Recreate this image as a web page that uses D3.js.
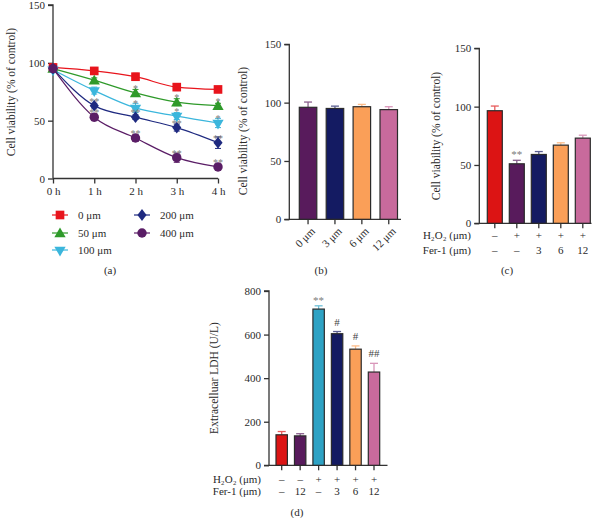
<!DOCTYPE html>
<html><head><meta charset="utf-8">
<script src="https://cdn.jsdelivr.net/npm/d3@7"></script>
<style>
body{margin:0;background:#fff;}
svg text{font-family:"Liberation Serif","DejaVu Serif",serif;}
</style></head><body>
<svg id="c" width="599" height="518"></svg>
<script>
// ---------- DATA ----------
// Panel (a)
const hours = [0,1,2,3,4];
const hourLabels = ["0 h","1 h","2 h","3 h","4 h"];
const seriesNames = ["0 μm","50 μm","100 μm","200 μm","400 μm"];
const seriesColors = ["#e8141c","#2f9a2a","#3bb6dc","#1f2a80","#5a1d66"];
const seriesSymbols = ["square","triUp","triDown","diamond","circle"];
const s0 = [96,93,88,79,77];
const s50 = [95,85,74,66,63];
const s100 = [94,76,61,54,48];
const s200 = [95,63,53,44,31];
const s400 = [95,53,35,18,10];
const e0 = [3,3,3,3,2];
const e50 = [2,2,3,3,2];
const e100 = [2,3,4,3,4];
const e200 = [2,2,2,3,5];
const e400 = [2,3,3,4,2];
const sig0 = ["","","","",""];
const sig50 = ["","","*","*","*"];
const sig100 = ["","","*","*","*"];
const sig200 = ["","**","**","**","**"];
const sig400 = ["","**","**","**","**"];
const ticksA = [0,50,100,150];

// Panel (b)
const catB = ["0 μm","3 μm","6 μm","12 μm"];
const valB = [96,95,96.5,94];
const errB = [4.5,2,2,2.5];
const colB = ["#581b5c","#141b62","#fa9f58","#c86a9c"];

// Panel (c)
const h2o2C = ["–","+","+","+","+"];
const ferC = ["–","–","3","6","12"];
const valC = [96.5,51,59,67,73];
const errC = [4,3,2.5,2,2.5];
const sigC = ["","**","","",""];
const colC = ["#dc1414","#581b5c","#141b62","#fa9f58","#c86a9c"];

// Panel (d)
const h2o2D = ["–","–","+","+","+","+"];
const ferD = ["–","12","–","3","6","12"];
const valD = [140,135,717,604,533,428];
const errD = [15,10,15,10,15,40];
const sigD = ["","","**","#","#","##"];
const colD = ["#dc1414","#581b5c","#2ea2c4","#141b62","#fa9f58","#c86a9c"];
const ticksD = [0,200,400,600,800];

// ---------- DRAWING ----------
const svg = d3.select("#c");
const axisCol = "#333";
const txtCol = "#2a2a2a";
const sigCol = "#7a7a7a";

function symPath(kind){
  if(kind==="square") return d3.symbol(d3.symbolSquare, 75)();
  if(kind==="triUp") return d3.symbol(d3.symbolTriangle, 55)();
  if(kind==="triDown") return d3.symbol(d3.symbolTriangle, 55)();
  if(kind==="diamond") return d3.symbol(d3.symbolDiamond, 50)();
  return d3.symbol(d3.symbolCircle, 70)();
}
function symTransform(kind,x,y){
  if(kind==="triDown") return `translate(${x},${y}) rotate(180)`;
  if(kind==="triUp") return `translate(${x},${y+1})`;
  if(kind==="diamond") return `translate(${x},${y}) scale(1.2,0.9)`;
  return `translate(${x},${y})`;
}

function yAxis(g, y, ticks){
  const ax = d3.axisLeft(y).tickValues(ticks).tickSize(5).tickPadding(3).tickFormat(d3.format("d"));
  g.call(ax);
  g.select(".domain").attr("stroke",axisCol).attr("stroke-width",1.3).attr("d",`M-5,${y(ticks[ticks.length-1])}H0V${y(ticks[0])}`);
  g.selectAll(".tick line").attr("stroke",axisCol).attr("stroke-width",1.3);
  g.selectAll(".tick text").attr("fill",txtCol).style("font-size","11px").style("font-family","Liberation Serif");
}

function yLabel(x, yc, text){
  svg.append("text").attr("transform",`translate(${x},${yc}) rotate(-90)`)
    .attr("text-anchor","middle").attr("fill",txtCol).style("font-size","11.5px").text(text);
}

// ===== Panel (a) =====
{
  const x = d3.scaleLinear().domain([0,4]).range([53,218]);
  const y = d3.scaleLinear().domain([0,150]).range([178.5,5]);
  const g = svg.append("g");
  const gy = g.append("g").attr("transform","translate(53,0)");
  yAxis(gy, y, ticksA);
  const gx = g.append("g").attr("transform",`translate(0,${y(0)})`);
  gx.call(d3.axisBottom(x).tickValues(hours).tickSize(5).tickPadding(4).tickFormat((d,i)=>hourLabels[i]));
  gx.select(".domain").attr("stroke",axisCol).attr("stroke-width",1.3).attr("d",`M${x(0)},0H${x(4)}`);
  gx.selectAll(".tick line").attr("stroke",axisCol).attr("stroke-width",1.3);
  gx.selectAll(".tick text").attr("fill",txtCol).style("font-size","11px").style("font-family","Liberation Serif");
  yLabel(15, 92, "Cell viability (% of control)");

  const vals = [s0,s50,s100,s200,s400];
  const errs = [e0,e50,e100,e200,e400];
  const sigs = [sig0,sig50,sig100,sig200,sig400];
  const line = d3.line().x((d,i)=>x(hours[i])).y(d=>y(d)).curve(d3.curveMonotoneX);
  vals.forEach((v,k)=>{
    const c = seriesColors[k];
    g.append("path").attr("d",line(v)).attr("fill","none").attr("stroke",c).attr("stroke-width",1.2);
    v.forEach((d,i)=>{
      const cx = x(hours[i]);
      const e = errs[k][i];
      g.append("line").attr("x1",cx).attr("x2",cx).attr("y1",y(d-e)).attr("y2",y(d+e)).attr("stroke",c).attr("stroke-width",1);
      [d-e,d+e].forEach(t=>g.append("line").attr("x1",cx-3).attr("x2",cx+3).attr("y1",y(t)).attr("y2",y(t)).attr("stroke",c).attr("stroke-width",1));
      g.append("path").attr("d",symPath(seriesSymbols[k])).attr("transform",symTransform(seriesSymbols[k],cx,y(d))).attr("fill",c);
      if(sigs[k][i]){
        g.append("text").attr("x",cx).attr("y",y(d)-1).attr("text-anchor","middle")
          .attr("fill",sigCol).style("font-size","10px").text(sigs[k][i]);
      }
    });
  });
  const legPos = [[60,215],[60,233],[60,250],[142,215],[142,233]];
  seriesNames.forEach((n,k)=>{
    const [lx,ly] = legPos[k];
    const c = seriesColors[k];
    g.append("line").attr("x1",lx-8).attr("x2",lx+8).attr("y1",ly).attr("y2",ly).attr("stroke",c).attr("stroke-width",1.2);
    g.append("path").attr("d",symPath(seriesSymbols[k])).attr("transform",symTransform(seriesSymbols[k],lx,ly)).attr("fill",c);
    g.append("text").attr("x",lx+18).attr("y",ly+4).attr("fill",txtCol).style("font-size","11px").text(n);
  });
  svg.append("text").attr("x",110).attr("y",274).attr("text-anchor","middle").attr("fill",txtCol).style("font-size","11px").text("(a)");
}

function barPanel(opt){
  const n = opt.vals.length;
  const idx = d3.range(n);
  const step = (opt.lastLeft - opt.firstLeft)/(n-1);
  const pi = 1 - opt.bw/step;
  const x = d3.scaleBand().domain(idx)
    .range([opt.firstLeft - pi*step/2, opt.firstLeft - pi*step/2 + n*step])
    .paddingInner(pi).paddingOuter(pi/2);
  const y = d3.scaleLinear().domain(opt.domain).range(opt.yRange);
  const g = svg.append("g");
  const gy = g.append("g").attr("transform",`translate(${opt.axisX},0)`);
  yAxis(gy, y, opt.ticks);
  g.append("line").attr("x1",opt.axisX-5).attr("x2",opt.axisEnd).attr("y1",y(0)).attr("y2",y(0)).attr("stroke",axisCol).attr("stroke-width",1.3);
  idx.forEach(i=>{
    const cx = x(i)+x.bandwidth()/2;
    g.append("line").attr("x1",cx).attr("x2",cx).attr("y1",y(0)).attr("y2",y(0)+5).attr("stroke",axisCol).attr("stroke-width",1.3);
  });
  idx.forEach(i=>{
    const v = opt.vals[i], e = opt.errs[i], c = opt.colors[i];
    const cx = x(i)+x.bandwidth()/2;
    const ec = d3.interpolateRgb(c,"#ffffff")(0.3);
    g.append("line").attr("x1",cx).attr("x2",cx).attr("y1",y(v)).attr("y2",y(v+e)).attr("stroke",ec).attr("stroke-width",1.3);
    g.append("line").attr("x1",cx-4).attr("x2",cx+4).attr("y1",y(v+e)).attr("y2",y(v+e)).attr("stroke",ec).attr("stroke-width",1.3);
    g.append("rect").attr("x",x(i)).attr("y",y(v)).attr("width",x.bandwidth()).attr("height",y(0)-y(v))
      .attr("fill",c).attr("stroke","#2b2b2b").attr("stroke-width",1.2);
    if(opt.sigs && opt.sigs[i]){
      const isHash = opt.sigs[i].indexOf("#")>=0;
      g.append("text").attr("x",cx).attr("y",y(v+e)-(isHash?6:2)).attr("text-anchor","middle")
        .attr("fill",isHash?"#444":sigCol).style("font-size","11px").text(opt.sigs[i]);
    }
  });
  return {x,y,g};
}

// ===== Panel (b) =====
{
  const p = barPanel({vals:valB, errs:errB, colors:colB, firstLeft:299.3, lastLeft:380, bw:17.5,
    domain:[0,150], yRange:[219.3,44.3], ticks:[0,50,100,150], axisX:289.3, axisEnd:401});
  catB.forEach((t,i)=>{
    const cx = p.x(i)+p.x.bandwidth()/2;
    p.g.append("text").attr("transform",`translate(${cx+5},${p.y(0)+10}) rotate(-45)`)
      .attr("text-anchor","end").attr("dy","0.35em").attr("fill",txtCol).style("font-size","11px").text(t);
  });
  yLabel(247, 131, "Cell viability (% of control)");
  svg.append("text").attr("x",321).attr("y",274).attr("text-anchor","middle").attr("fill",txtCol).style("font-size","11px").text("(b)");
}

// ===== Panel (c) =====
{
  const p = barPanel({vals:valC, errs:errC, colors:colC, sigs:sigC, firstLeft:487.3, lastLeft:575.3, bw:15,
    domain:[0,150], yRange:[223.3,48.3], ticks:[0,50,100,150], axisX:479.3, axisEnd:591.5});
  [h2o2C, ferC].forEach((r,ri)=>{
    r.forEach((t,i)=>{
      const cx = p.x(i)+p.x.bandwidth()/2;
      p.g.append("text").attr("x",cx).attr("y",239+ri*14.5).attr("text-anchor","middle").attr("fill",txtCol).style("font-size","11px").text(t);
    });
  });
  p.g.append("text").attr("x",471).attr("y",239).attr("text-anchor","end").attr("fill",txtCol).style("font-size","11px").text("H₂O₂ (μm)");
  p.g.append("text").attr("x",471).attr("y",253.5).attr("text-anchor","end").attr("fill",txtCol).style("font-size","11px").text("Fer-1 (μm)");
  yLabel(440, 136, "Cell viability (% of control)");
  svg.append("text").attr("x",507).attr("y",274).attr("text-anchor","middle").attr("fill",txtCol).style("font-size","11px").text("(c)");
}

// ===== Panel (d) =====
{
  const p = barPanel({vals:valD, errs:errD, colors:colD, sigs:sigD, firstLeft:276, lastLeft:368.3, bw:11.4,
    domain:[0,800], yRange:[465.3,291], ticks:ticksD, axisX:269, axisEnd:387.5});
  [h2o2D, ferD].forEach((r,ri)=>{
    r.forEach((t,i)=>{
      const cx = p.x(i)+p.x.bandwidth()/2;
      p.g.append("text").attr("x",cx).attr("y",482.5+ri*12.5).attr("text-anchor","middle").attr("fill",txtCol).style("font-size","11px").text(t);
    });
  });
  p.g.append("text").attr("x",261).attr("y",482.5).attr("text-anchor","end").attr("fill",txtCol).style("font-size","11px").text("H₂O₂ (μm)");
  p.g.append("text").attr("x",261).attr("y",495).attr("text-anchor","end").attr("fill",txtCol).style("font-size","11px").text("Fer-1 (μm)");
  yLabel(218, 378, "Extracelluar LDH (U/L)");
  svg.append("text").attr("x",297).attr("y",516).attr("text-anchor","middle").attr("fill",txtCol).style("font-size","11px").text("(d)");
}
</script>
</body></html>
